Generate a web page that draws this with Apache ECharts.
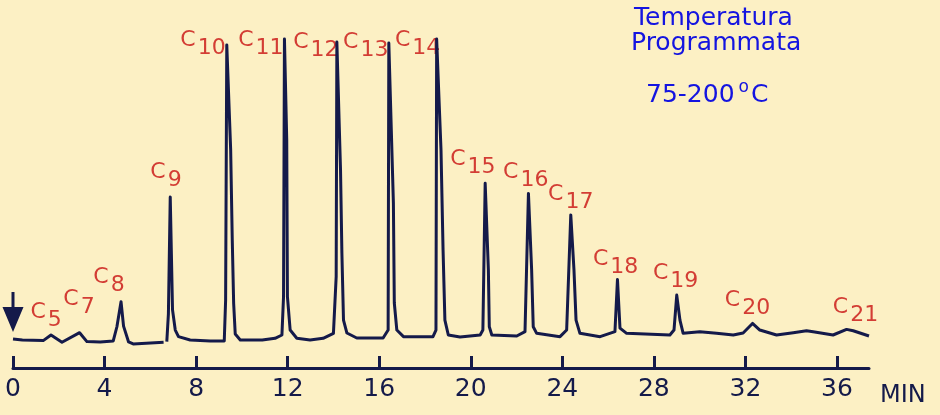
<!DOCTYPE html>
<html>
<head>
<meta charset="utf-8">
<script src="https://cdn.jsdelivr.net/npm/echarts@6/dist/echarts.min.js"></script>
<style>
  html, body { margin: 0; padding: 0; background: #fcf0c4; }
  #chart { width: 940px; height: 415px; }
</style>
</head>
<body>
<div id="chart"></div>
<script>
  // retention time (min) and detector signal
  let timeMin = [0, 0.41, 1.32, 1.66, 2.14, 2.91, 3.23, 3.81, 4.38, 4.54, 4.72, 4.83, 5.05, 5.25, 6.58, 6.64,
    6.72, 6.79, 6.87, 6.97, 7.09, 7.23, 7.74, 8.62, 9.23,
    9.29, 9.34, 9.42, 9.51, 9.58, 9.64, 9.71, 9.93, 10.89, 11.45, 11.75,
    11.82, 11.86, 11.93, 11.96, 11.99, 12.11, 12.40, 12.98, 13.55, 14.0,
    14.12, 14.15, 14.23, 14.31, 14.37, 14.44, 14.59, 15.02, 16.17, 16.39,
    16.42, 16.50, 16.62, 16.66, 16.77, 17.06, 18.35, 18.48,
    18.51, 18.59, 18.70, 18.79, 18.87, 19.02, 19.53, 20.41, 20.53,
    20.63, 20.69, 20.77, 20.81, 20.92, 22.01, 22.37,
    22.52, 22.58, 22.66, 22.73, 22.88, 23.90, 24.19,
    24.37, 24.42, 24.51, 24.60, 24.77, 25.65, 26.30,
    26.41, 26.52, 26.81, 28.70, 28.88,
    29.0, 29.14, 29.28, 30.01, 30.74, 31.47, 31.90, 32.31, 32.63, 33.36,
    34.09, 34.67, 34.96, 35.83, 36.42, 36.71, 37.4]
  let signal = [8.8, 8.5, 8.3, 10.0, 7.8, 10.7, 8.0, 7.9, 8.2, 12.5, 20.1, 12.7, 7.9, 7.3, 7.8, null,
    8.0, 16.4, 51.8, 17.6, 11.5, 9.5, 8.5, 8.2, 8.2,
    20.6, 97.9, 97.6, 66.1, 38.8, 19.7, 10.3, 8.5, 8.5, 9.0, 10.0,
    21.6, 99.7, 99.4, 69.1, 21.6, 11.5, 9.0, 8.5, 9.0, 10.5,
    27.7, 98.8, 98.5, 60.0, 34.8, 14.5, 10.6, 9.1, 9.1, 11.5,
    98.5, 98.2, 50.0, 19.7, 11.5, 9.5, 9.5, 11.5,
    99.7, 99.4, 66.1, 35.8, 14.5, 10.0, 9.4, 10.0, 11.5,
    56.0, 55.5, 29.7, 12.5, 10.0, 9.7, 11.0,
    52.9, 52.4, 29.7, 12.5, 10.5, 9.5, 11.5,
    46.4, 46.1, 29.7, 14.5, 10.5, 9.5, 11.0,
    26.8, 12.1, 10.5, 10.0, 11.5,
    22.1, 14.5, 10.5, 11.0, 10.5, 10.0, 10.6, 13.5, 11.5, 10.0,
    10.7, 11.3, 11.0, 10.0, 11.7, 11.3, 9.7]

  // peak labels C5 ... C21 and where they sit
  let carbon = ['5', '7', '8', '9', '10', '11', '12', '13', '14', '15', '16', '17', '18', '19', '20', '21']
  let labelTime = [0.76, 2.2, 3.51, 6.0, 7.31, 9.84, 12.24, 14.42, 16.69, 19.1, 21.41, 23.38, 25.34, 27.96, 31.1, 35.82]
  let labelLevel = [20.3, 24.2, 30.9, 62.7, 102.7, 102.7, 102.1, 102.1, 102.7, 66.7, 62.7, 56.1, 36.4, 32.1, 24.0, 21.8]

  let tickLabels = [0, 4, 8, 12, 16, 20, 24, 28, 32, 36]
  let injection = [0, 17]

  let navy = '#141a4a'
  let red = '#c81010'
  let blue = '#1414e0'
  let font = 'DejaVu Sans'

  let chart = echarts.init(document.getElementById('chart'))

  let traceData = timeMin.map((t, i) => [t, signal[i] === null ? '-' : signal[i]])
  let labelData = carbon.map((n, i) => ({ value: [labelTime[i], labelLevel[i]], name: n }))

  let option = {
    backgroundColor: '#fcf0c4',
    animation: false,
    grid: {
      left: 13,
      right: 71,
      top: 5,
      bottom: 47,
      containLabel: false
    },
    xAxis: {
      type: 'value',
      min: 0,
      max: 37.4,
      interval: 4,
      name: 'MIN',
      nameLocation: 'end',
      nameGap: 11,
      nameTextStyle: {
        color: navy,
        fontFamily: font,
        fontSize: 24,
        align: 'left',
        verticalAlign: 'top',
        padding: [16, 0, 0, 0]
      },
      axisLine: { lineStyle: { color: navy, width: 3 } },
      axisTick: {
        inside: true,
        length: 12,
        customValues: tickLabels,
        lineStyle: { color: navy, width: 3 }
      },
      axisLabel: {
        customValues: tickLabels,
        color: navy,
        fontFamily: font,
        fontSize: 25,
        margin: 9
      },
      splitLine: { show: false }
    },
    yAxis: {
      type: 'value',
      min: 0,
      max: 110,
      show: false
    },
    series: [
      {
        type: 'line',
        data: traceData,
        symbol: 'none',
        connectNulls: false,
        clip: false,
        lineStyle: { color: navy, width: 3, join: 'round' }
      },
      {
        type: 'scatter',
        data: labelData,
        symbolSize: 0,
        clip: false,
        label: {
          show: true,
          position: [0, 0],
          align: 'left',
          verticalAlign: 'top',
          formatter: p => '{c|C}{n|' + p.name + '}',
          rich: {
            c: { fontFamily: font, fontSize: 22, color: red, verticalAlign: 'top', lineHeight: 22 },
            n: { fontFamily: font, fontSize: 22, color: red, verticalAlign: 'top', lineHeight: 22, padding: [8, 0, 0, 2] }
          }
        }
      },
      {
        type: 'scatter',
        data: [injection],
        symbol: 'path://M9,0 L12,0 L12,15 L21,15 L10.5,40 L0,15 L9,15 Z',
        symbolSize: [21, 40],
        clip: false,
        itemStyle: { color: navy, opacity: 1 }
      }
    ],
    graphic: [
      {
        type: 'text',
        left: 634,
        top: 6,
        style: { text: 'Temperatura', fill: blue, font: '25px "DejaVu Sans"' }
      },
      {
        type: 'text',
        left: 631,
        top: 31,
        style: { text: 'Programmata', fill: blue, font: '25px "DejaVu Sans"' }
      },
      {
        type: 'text',
        left: 646,
        top: 79,
        style: {
          text: '{a|75-200}{s|o}{a|C}',
          rich: {
            a: { fontFamily: font, fontSize: 25, fill: blue, verticalAlign: 'top', lineHeight: 28 },
            s: { fontFamily: font, fontSize: 17, fill: blue, verticalAlign: 'top', lineHeight: 18, padding: [-4, 2, 0, 4] }
          }
        }
      }
    ]
  }
  chart.setOption(option)
</script>
</body>
</html>
